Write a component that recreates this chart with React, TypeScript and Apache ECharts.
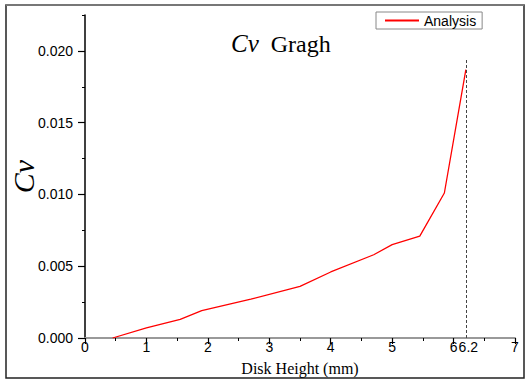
import React, { useEffect, useRef } from "react";
import * as echarts from "echarts";

const xValues = [0.45, 1.0, 1.55, 1.9, 2.7, 3.5, 4.0, 4.7, 5.0, 5.45, 5.85, 6.2];
const cvValues = [0.0, 0.0007, 0.0013, 0.0019, 0.0027, 0.0036, 0.0046, 0.0058, 0.0065, 0.0071, 0.0101, 0.0187];
const xLabelValues = [0, 1, 2, 3, 4, 5, 6, 6.2, 7];
const xMajorTicks = [0, 1, 2, 3, 4, 5, 6, 7];
const yMajorTicks = [0, 0.005, 0.01, 0.015, 0.02];
const seriesName = "Analysis";
const markX = 6.2;
const markTop = 0.0194;

export default function App() {
  const ref = useRef<HTMLDivElement>(null);
  useEffect(() => {
    document.body.style.margin = "0";
    const chart = echarts.init(ref.current!, null, { renderer: "svg" });
    const data = xValues.map((x, i) => [x, cvValues[i]]);
    const last = data.length - 1;
    const tickLabel = { fontFamily: "Liberation Sans", fontSize: 14, color: "#000" };
    chart.setOption({
      animation: false,
      backgroundColor: "#fff",
      title: {
        text: "{a|Cv}{b|  Gragh}",
        left: 226,
        top: 26,
        textStyle: {
          fontWeight: "normal",
          rich: {
            a: { fontFamily: "Liberation Serif", fontStyle: "italic", fontWeight: "normal", fontSize: 25, color: "#000" },
            b: { fontFamily: "Liberation Serif", fontWeight: "normal", fontSize: 24, color: "#000" },
          },
        },
      },
      legend: {
        left: 376,
        top: 12,
        padding: [1, 6, 1, 9],
        itemWidth: 34,
        itemHeight: 2,
        borderColor: "#888",
        borderWidth: 1,
        borderRadius: 0,
        textStyle: { fontFamily: "Liberation Sans", fontSize: 14, color: "#000", lineHeight: 15 },
        data: [{ name: seriesName, icon: "rect" }],
      },
      grid: { left: 85, right: 13, top: 15, bottom: 43, outerBoundsMode: "none", containLabel: false },
      xAxis: [
        {
          type: "value",
          min: 0,
          max: 7,
          interval: 0.5,
          name: "Disk Height (mm)",
          nameLocation: "middle",
          nameGap: 22,
          nameTextStyle: { fontFamily: "Liberation Serif", fontSize: 16, color: "#000" },
          axisLine: { show: true, lineStyle: { color: "#999", width: 2 } },
          axisTick: { show: true, length: 3, lineStyle: { color: "#000", width: 1 } },
          axisLabel: {
            ...tickLabel,
            margin: 2,
            customValues: xLabelValues,
            formatter: (v: number) => (v === 6.2 ? "{s|6.2}" : String(v)),
            rich: { s: { fontFamily: "Liberation Sans", fontSize: 14, color: "#000", padding: [0, 0, 0, 5] } },
          },
          splitLine: { show: false },
        },
        {
          type: "value",
          min: 0,
          max: 7,
          position: "bottom",
          axisLine: { show: false },
          axisTick: { show: true, length: 6, customValues: xMajorTicks, lineStyle: { color: "#000", width: 1.2 } },
          axisLabel: { show: false },
          splitLine: { show: false },
        },
      ],
      yAxis: [
        {
          type: "value",
          min: 0,
          max: 0.0225,
          interval: 0.0025,
          name: "Cv",
          nameLocation: "middle",
          nameGap: 47,
          nameRotate: 90,
          nameTextStyle: { fontFamily: "Liberation Serif", fontStyle: "italic", fontSize: 30, color: "#000" },
          axisLine: { show: true, lineStyle: { color: "#000", width: 1.5 } },
          axisTick: { show: true, length: 3, lineStyle: { color: "#000", width: 1 } },
          axisLabel: { show: false },
          splitLine: { show: false },
        },
        {
          type: "value",
          min: 0,
          max: 0.0225,
          position: "left",
          axisLine: { show: false },
          axisTick: { show: true, length: 7, customValues: yMajorTicks, lineStyle: { color: "#000", width: 1.2 } },
          axisLabel: { ...tickLabel, margin: 12, customValues: yMajorTicks, formatter: (v: number) => v.toFixed(3) },
          splitLine: { show: false },
        },
      ],
      series: [
        {
          name: seriesName,
          type: "line",
          xAxisIndex: 0,
          yAxisIndex: 0,
          data: data.map((d, i) =>
            i === last
              ? {
                  value: d,
                  label: {
                    show: true,
                    position: "left",
                    distance: 6,
                    formatter: () => cvValues[last].toFixed(4),
                    fontFamily: "Liberation Sans",
                    fontSize: 11.5,
                    color: "#ff0000",
                  },
                }
              : d
          ),
          showSymbol: false,
          symbol: "none",
          lineStyle: { color: "#ff0000", width: 1.3 },
          itemStyle: { color: "#ff0000" },
          markLine: {
            silent: true,
            symbol: "none",
            label: { show: false },
            lineStyle: { color: "#444", width: 1, type: [3, 2] },
            data: [[{ coord: [markX, 0] }, { coord: [markX, markTop] }]],
          },
        },
      ],
      graphic: [
        {
          type: "rect",
          shape: { x: 6, y: 5, width: 518, height: 373 },
          style: { fill: "none", stroke: "#222", lineWidth: 1.5 },
          silent: true,
        },
        {
          type: "line",
          shape: { x1: 6, y1: 5, x2: 524, y2: 5 },
          style: { stroke: "#777", lineWidth: 2 },
          silent: true,
        },
      ],
    });
    return () => chart.dispose();
  }, []);
  return <div ref={ref} style={{ width: 528, height: 381 }} />;
}
